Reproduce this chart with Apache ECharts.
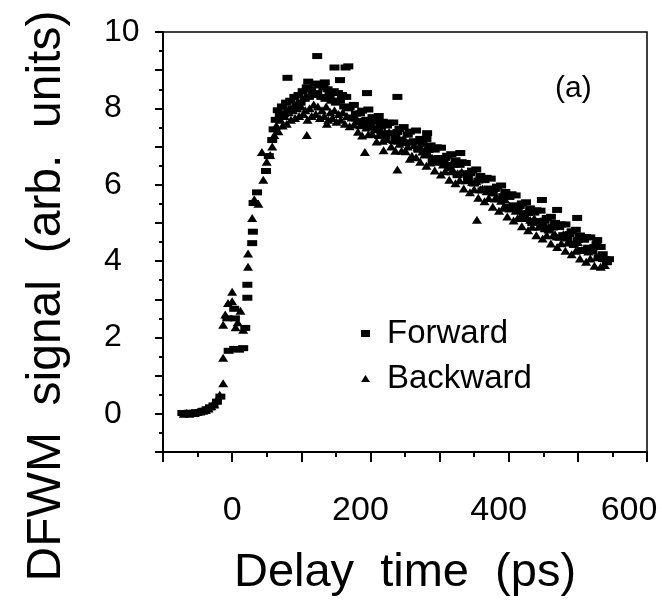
<!DOCTYPE html>
<html>
<head>
<meta charset="utf-8">
<script src="https://cdn.jsdelivr.net/npm/echarts@6/dist/echarts.min.js"></script>
<style>
html,body{margin:0;padding:0;background:#fff;}
#c{width:662px;height:604px;}
</style>
</head>
<body>
<div id="c"></div>
<script>
const seriesNames = ['Forward', 'Backward'];
const xTickLabels = [0, 200, 400, 600];
const yTickLabels = [0, 2, 4, 6, 8, 10];
const xTitle = 'Delay  time  (ps)';
const yTitle = 'DFWM  signal  (arb.  units)';
const panelLabel = '(a)';

const forward = [
[-72,0.02],[-67,0.0],[-62,0.03],[-57,0.0],[-52,0.04],[-47,0.05],[-42,0.08],[-37,0.12],[-32,0.17],[-27,0.22],[-22,0.32],[-17,0.45],
[-7,2.5],[-5,1.65],[3,1.7],[3,2.75],[4,2.5],[10,1.68],[16,1.72],[19,2.25],[22,3.04],[22,3.38],[29,4.47],[30,4.77],[31,5.52],[36,5.8],
[49,6.36],[53,6.75],[58,7.17],
[60,7.45],[63,7.7],[66,7.95],[69,7.8],[72,8.05],[75,7.85],[78,8.15],[80,8.8],[81,7.95],[84,8.2],[87,8.0],[90,8.3],[93,8.1],[96,8.35],
[99,8.15],[102,8.45],[105,8.25],[108,8.55],[110,8.7],[111,8.3],[114,8.5],[117,8.35],[120,8.65],[123,9.37],[123,8.4],[126,8.6],
[129,8.3],[132,8.55],[134,8.68],[135,8.25],[138,8.5],[141,8.35],[144,8.2],[147,8.45],[148,9.07],[150,8.15],[153,8.4],[156,8.74],
[156,8.2],[159,8.35],[162,8.05],[164,9.07],[165,8.3],[168,9.1],[168,8.0],
[170,8.03],[173,7.76],[176,8.09],[179,7.86],[182,7.64],[185,7.87],[188,7.94],[191,7.67],[194,7.7],[195,8.4],[197,7.97],[200,7.5],
[203,7.77],[206,7.65],[209,7.47],[212,7.8],[215,7.52],[218,7.65],[221,7.27],[224,7.55],[227,7.62],[230,7.35],[233,7.63],[236,7.25],
[239,7.38],[239,8.3],[242,7.46],[245,7.18],[248,7.51],[251,7.09],[254,7.31],[257,7.39],[260,7.11],[263,7.14],[266,7.42],[269,6.94],
[272,7.2],[275,7.07],[278,6.88],[281,7.2],[282,7.35],[284,6.91],[287,7.03],[290,6.65],[293,6.92],[296,6.98],[299,6.7],[302,6.97],
[305,6.58],[308,6.7],[311,6.76],[314,6.43],[317,6.8],[320,6.52],[323,6.64],[326,6.25],[329,6.52],[330,6.83],[332,6.59],[335,6.3],
[338,6.57],[341,6.19],[344,6.3],[347,6.37],[350,6.03],[353,6.4],[356,6.11],[359,6.23],[362,5.85],[365,6.12],[368,6.18],[371,5.9],
[374,6.16],[377,5.77],[380,5.89],[383,5.95],[386,5.62],[389,5.98],[392,5.7],[395,5.81],[398,5.42],[401,5.68],[404,5.75],[407,5.46],
[410,5.72],[413,5.33],[416,5.44],[419,5.51],[422,5.18],[425,5.54],[428,5.26],[431,5.38],[434,5.0],[437,5.27],[440,5.33],[443,5.05],
[446,5.32],[448,5.6],[449,4.94],[452,5.06],[455,5.13],[458,4.8],[461,5.16],[464,4.88],[467,5.0],[470,5.34],[470,4.62],[473,4.89],
[476,4.96],[479,4.68],[482,4.96],[485,4.59],[488,4.71],[491,4.78],[494,4.45],[497,4.82],[499,5.13],[500,4.55],[503,4.67],[506,4.29],
[509,4.56],[512,4.63],[515,4.35],[518,4.62],[521,4.25],[524,4.37],[527,4.44],[528,4.55],[530,4.1],[533,4.37],[536,4.18],[539,4.05],
[542,3.97],[545,4.05]
];

const backward = [
[-70,0.0],[-66,0.02],[-62,0.0],[-58,0.03],[-54,0.02],[-50,0.05],[-46,0.06],[-42,0.08],[-38,0.1],[-34,0.14],[-30,0.2],[-26,0.25],
[-22,0.35],[-18,0.5],[-13,0.8],[-13,1.47],[-13,2.33],[-10,2.6],[-6,2.9],[0,3.2],[0,2.95],[5,2.27],[8,2.4],[12,2.7],[16,2.2],
[23,3.85],[23,4.2],[29,5.13],[32,5.62],[38,5.5],[43,6.86],[45,6.13],[50,6.6],[55,6.78],
[58,7.0],[61,7.3],[64,7.55],[67,7.4],[70,7.7],[73,7.55],[76,7.8],[79,7.6],[82,7.9],[85,7.7],[88,7.95],[91,7.75],[94,8.0],[97,7.8],
[100,8.05],[103,7.85],[106,7.95],[108,7.3],[109,7.7],[112,8.0],[115,7.8],[118,8.1],[121,7.85],[124,8.05],[127,7.75],[130,7.95],
[133,7.8],[136,8.05],[137,7.6],[139,7.7],[142,7.9],[145,7.75],[148,7.95],[151,7.65],[154,7.85],[157,7.7],[160,7.9],[163,7.6],[166,7.8],
[170,7.53],[173,7.76],[176,7.58],[179,7.76],[182,7.39],[185,7.56],[188,7.29],[191,7.57],[192,6.86],[194,7.5],[197,7.32],[200,7.65],
[203,7.33],[206,7.45],[209,7.13],[212,7.3],[215,7.43],[218,7.15],[219,6.9],[221,7.38],[224,7.2],[227,7.38],[230,7.0],[233,7.17],
[236,6.89],[239,7.15],[239,6.4],[242,7.07],[245,6.89],[248,7.21],[251,6.88],[254,7.0],[257,6.68],[260,6.76],[263,7.04],[266,6.72],
[269,6.94],[272,6.6],[275,6.87],[278,6.79],[281,6.5],[284,6.82],[287,6.58],[290,6.7],[293,6.37],[296,6.63],[299,6.6],[302,6.27],
[305,6.53],[308,6.35],[311,6.56],[314,6.13],[317,6.35],[320,6.37],[323,6.04],[326,6.3],[329,6.12],[332,6.34],[335,5.9],[338,6.12],
[341,6.14],[344,5.8],[347,6.07],[350,5.88],[353,6.1],[354,5.08],[356,5.66],[359,5.88],[362,5.9],[365,5.57],[368,5.83],[371,5.65],
[374,5.86],[377,5.42],[380,5.64],[383,5.65],[386,5.32],[389,5.58],[392,5.4],[395,5.61],[398,5.17],[401,5.38],[404,5.4],[407,5.06],
[410,5.32],[413,5.13],[416,5.34],[419,4.91],[422,5.13],[425,5.14],[428,4.81],[431,5.08],[434,4.9],[437,5.12],[440,4.68],[443,4.9],
[446,4.92],[449,4.59],[452,4.86],[455,4.68],[458,4.9],[461,4.46],[464,4.68],[467,4.7],[470,4.37],[473,4.64],[476,4.47],[479,4.7],
[482,4.27],[485,4.49],[488,4.51],[491,4.18],[494,4.45],[497,4.27],[500,4.5],[503,4.07],[506,4.29],[509,4.31],[512,3.98],[515,4.25],
[518,4.07],[521,4.3],[524,3.88],[527,4.1],[530,4.13],[533,3.85],[536,4.08],[539,3.9],[542,4.0]
];

const FONT = '"Liberation Sans", Arial, Helvetica, sans-serif';
const labelRich = {
  c0: {fontSize: 34, fontFamily: FONT, color: '#000'},
  c1: {fontSize: 34, fontFamily: FONT, color: '#000', padding: [0, 20, 0, 0]},
  c2: {fontSize: 34, fontFamily: FONT, color: '#000', padding: [0, 36, 0, 0]}
};
const labelStyleKey = ['c0', 'c1', 'c1', 'c2'];

const chart = echarts.init(document.getElementById('c'), null, {renderer: 'canvas'});
chart.setOption({
  animation: false,
  backgroundColor: '#fff',
  grid: {left: 163, right: 15, top: 32, bottom: 152, show: true, borderColor: '#000', borderWidth: 1.5,
         backgroundColor: 'transparent', containLabel: false, outerBoundsMode: 'none'},
  xAxis: {
    type: 'value', min: -100, max: 600, interval: 100,
    axisLine: {show: true, onZero: false, lineStyle: {color: '#000', width: 2}},
    axisTick: {show: true, inside: false, length: 10, lineStyle: {color: '#000', width: 2}},
    minorTick: {show: true, splitNumber: 2, length: 5, lineStyle: {color: '#000', width: 2}},
    splitLine: {show: false},
    axisLabel: {
      color: '#000', fontSize: 34, fontFamily: FONT, margin: 42, rich: labelRich,
      formatter: v => {
        const i = xTickLabels.indexOf(v);
        return i >= 0 ? '{' + labelStyleKey[i] + '|' + v + '}' : '';
      }
    },
    name: xTitle, nameLocation: 'middle', nameGap: 98,
    nameTextStyle: {color: '#000', fontSize: 47, fontFamily: FONT}
  },
  yAxis: {
    type: 'value', min: -1, max: 10, interval: 1,
    axisLine: {show: true, onZero: false, lineStyle: {color: '#000', width: 2}},
    axisTick: {show: true, inside: false, length: 8, lineStyle: {color: '#000', width: 2}},
    minorTick: {show: true, splitNumber: 2, length: 4, lineStyle: {color: '#000', width: 2}},
    splitLine: {show: false},
    axisLabel: {
      color: '#000', fontSize: 32, fontFamily: FONT, margin: 59, align: 'left',
      formatter: v => yTickLabels.indexOf(v) >= 0 ? String(v) : ''
    }
  },
  legend: {
    orient: 'vertical', left: 356, top: 312, itemGap: 12,
    itemWidth: 9, itemHeight: 7,
    textStyle: {color: '#000', fontSize: 33, fontFamily: FONT, padding: [0, 0, 0, 12]},
    data: [{name: seriesNames[0], icon: 'rect'}, {name: seriesNames[1], icon: 'triangle'}]
  },
  graphic: [
    {type: 'text', left: 555, top: 74, style: {text: panelLabel, font: '30px ' + FONT, fill: '#000'}},
    {type: 'text', x: 47, y: 296, rotation: Math.PI / 2,
     style: {text: yTitle, font: '48px ' + FONT, fill: '#000', textAlign: 'center', textVerticalAlign: 'middle'}}
  ],
  series: [
    {name: seriesNames[0], type: 'scatter', data: forward, symbol: 'rect', symbolSize: [10, 6],
     itemStyle: {color: '#000', opacity: 1}},
    {name: seriesNames[1], type: 'scatter', data: backward, symbol: 'triangle', symbolSize: [10, 8],
     itemStyle: {color: '#000', opacity: 1}}
  ]
});
</script>
</body>
</html>
